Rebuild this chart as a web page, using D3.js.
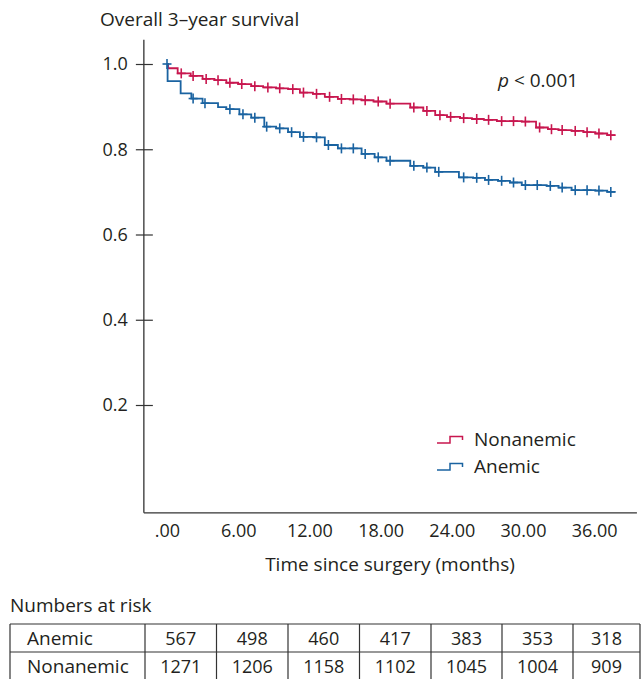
<!DOCTYPE html>
<html>
<head>
<meta charset="utf-8">
<script src="https://cdn.jsdelivr.net/npm/d3@7"></script>
<style>
  html, body { margin: 0; padding: 0; background: #fff; }
  svg { display: block; font-family: "Open Sans", "Noto Sans", sans-serif; }
</style>
</head>
<body>
<svg id="chart" width="641" height="679"></svg>
<script>
// ---------- data ----------
const xTicks = [0, 6, 12, 18, 24, 30, 36];
const yTicks = [0.2, 0.4, 0.6, 0.8, 1.0];

const nonanemicEventTimes = [0.1, 0.9, 2.0, 3.0, 4.0, 5.0, 6.0, 7.1, 8.1, 9.2, 10.2, 11.2, 12.3, 13.3, 14.4, 15.4, 16.4, 17.4, 18.5, 20.5, 21.6, 22.6, 23.6, 24.7, 25.7, 26.7, 27.8, 29.9, 31.1, 32.1, 33.0, 34.1, 35.1, 36.1, 37.1];
const nonanemicSurvival   = [0.990, 0.978, 0.972, 0.965, 0.962, 0.956, 0.953, 0.948, 0.945, 0.943, 0.941, 0.933, 0.930, 0.923, 0.918, 0.917, 0.915, 0.912, 0.907, 0.898, 0.890, 0.880, 0.876, 0.873, 0.871, 0.869, 0.866, 0.865, 0.851, 0.847, 0.845, 0.843, 0.840, 0.837, 0.833];
const nonanemicCensored   = [1.2, 2.2, 3.3, 4.3, 5.3, 6.3, 7.4, 8.5, 9.5, 10.6, 11.5, 12.6, 13.7, 14.7, 15.7, 16.7, 17.8, 18.8, 20.8, 21.9, 23.0, 23.9, 25.0, 26.1, 27.1, 28.2, 29.2, 30.2, 31.4, 32.4, 33.3, 34.4, 35.4, 36.4, 37.4];
const nonanemicEnd = 37.8;

const anemicEventTimes = [0.05, 1.15, 2.05, 3.0, 4.3, 5.0, 6.1, 7.1, 8.2, 9.2, 10.2, 11.2, 12.4, 13.3, 14.4, 16.4, 17.5, 18.5, 20.5, 21.6, 22.6, 24.6, 25.8, 26.8, 27.9, 28.9, 29.9, 32.0, 33.0, 34.1, 36.1, 37.1];
const anemicSurvival   = [0.960, 0.931, 0.919, 0.908, 0.899, 0.894, 0.882, 0.874, 0.853, 0.849, 0.840, 0.829, 0.828, 0.810, 0.802, 0.789, 0.781, 0.773, 0.761, 0.757, 0.747, 0.734, 0.733, 0.728, 0.726, 0.722, 0.716, 0.714, 0.710, 0.704, 0.703, 0.700];
const anemicCensored   = [0, 2.2, 3.2, 5.3, 6.4, 7.4, 8.4, 9.5, 10.5, 11.5, 12.6, 13.6, 14.7, 15.7, 16.7, 17.8, 18.8, 20.8, 21.9, 22.9, 25.0, 26.1, 27.1, 28.2, 29.2, 30.2, 31.2, 32.3, 33.3, 34.4, 35.4, 36.4, 37.4];
const anemicEnd = 37.8;

const riskGroups = ["Anemic", "Nonanemic"];
const riskAnemic = [567, 498, 460, 417, 383, 353, 318];
const riskNonanemic = [1271, 1206, 1158, 1102, 1045, 1004, 909];

// ---------- styles ----------
const colNon = "#c8174f";
const colAne = "#1a63a1";
const axisCol = "#333";
const textCol = "#231f20";
const wordSize = 19;
const numSize = 18;

const svg = d3.select("#chart");

const x = d3.scaleLinear().domain([0, 36]).range([167, 594.2]);
const y = d3.scaleLinear().domain([0, 1]).range([490.25, 64]);

const xMin = -1.95, xMax = 39.6;
const yMin = -0.053, yMax = 1.057;

// title
svg.append("text").attr("x", 100).attr("y", 26)
  .attr("font-size", wordSize).attr("fill", textCol)
  .text("Overall 3\u2013year survival");

// axes lines
svg.append("line").attr("x1", x(xMin)).attr("x2", x(xMin))
  .attr("y1", y(yMax)).attr("y2", y(yMin))
  .attr("stroke", axisCol).attr("stroke-width", 1.3);
svg.append("line").attr("x1", x(xMin)).attr("x2", x(xMax))
  .attr("y1", y(yMin)).attr("y2", y(yMin))
  .attr("stroke", axisCol).attr("stroke-width", 1.3);

// y axis ticks & labels
const yAxis = d3.axisLeft(y).tickValues(yTicks).tickFormat(d3.format(".1f"))
  .tickSizeInner(8).tickSizeOuter(0).tickPadding(8);
const gy = svg.append("g").attr("transform", `translate(${x(xMin)},0)`).call(yAxis);
gy.select(".domain").remove();
gy.selectAll(".tick line").attr("x1", 9).attr("x2", -8).attr("stroke", axisCol).attr("stroke-width", 1.2);
gy.selectAll(".tick text").attr("font-size", numSize).attr("font-family", "Open Sans, sans-serif").attr("fill", textCol);

// x axis labels
const xAxis = d3.axisBottom(x).tickValues(xTicks)
  .tickFormat(d => d === 0 ? ".00" : d3.format(".2f")(d))
  .tickSize(0).tickPadding(11);
const gx = svg.append("g").attr("transform", `translate(0,${y(yMin)})`).call(xAxis);
gx.select(".domain").remove();
gx.selectAll(".tick text").attr("font-size", numSize).attr("font-family", "Open Sans, sans-serif").attr("fill", textCol);

svg.append("text").attr("x", 390).attr("y", 571).attr("text-anchor", "middle")
  .attr("font-size", wordSize).attr("fill", textCol)
  .text("Time since surgery (months)");

// p-value
const pt = svg.append("text").attr("x", 498).attr("y", 87)
  .attr("font-size", wordSize).attr("fill", textCol);
pt.append("tspan").attr("font-style", "italic").text("p");
pt.append("tspan").text(" < 0.001");

// curves
function stepPoints(times, surv, end) {
  const pts = [[0, 1]];
  times.forEach((t, i) => pts.push([t, surv[i]]));
  pts.push([end, surv[surv.length - 1]]);
  return pts;
}
function valueAt(times, surv, t) {
  let v = 1;
  times.forEach((tt, i) => { if (tt <= t) v = surv[i]; });
  return v;
}
const line = d3.line().x(d => x(d[0])).y(d => y(d[1])).curve(d3.curveStepAfter);

function drawSeries(times, surv, cens, end, col) {
  const g = svg.append("g");
  g.append("path").datum(stepPoints(times, surv, end))
    .attr("d", line).attr("fill", "none").attr("stroke", col).attr("stroke-width", 1.8);
  const m = g.selectAll("g.c").data(cens).enter().append("g")
    .attr("transform", d => `translate(${x(d)},${y(valueAt(times, surv, d))})`);
  m.append("line").attr("x1", 0).attr("x2", 0).attr("y1", -5).attr("y2", 5)
    .attr("stroke", col).attr("stroke-width", 1.6);
  m.append("line").attr("x1", -4.5).attr("x2", 4.5).attr("y1", 0).attr("y2", 0)
    .attr("stroke", col).attr("stroke-width", 1.6);
}
drawSeries(nonanemicEventTimes, nonanemicSurvival, nonanemicCensored, nonanemicEnd, colNon);
drawSeries(anemicEventTimes, anemicSurvival, anemicCensored, anemicEnd, colAne);

// legend
const legend = [{name: "Nonanemic", col: colNon}, {name: "Anemic", col: colAne}];
legend.forEach((l, i) => {
  const ly = 443 + i * 27;
  svg.append("path")
    .attr("d", `M437,${ly} H450 V${ly - 6.5} H462.5 V${ly - 3}`)
    .attr("fill", "none").attr("stroke", l.col).attr("stroke-width", 1.5);
  svg.append("text").attr("x", 474).attr("y", ly + 3)
    .attr("font-size", wordSize).attr("fill", textCol).text(l.name);
});

// numbers at risk table
svg.append("text").attr("x", 10).attr("y", 612)
  .attr("font-size", wordSize).attr("fill", textCol).text("Numbers at risk");

const colEdges = [10, 145, 216.5, 288, 359.5, 431, 502, 573, 640];
const rowEdges = [624, 652, 680];
const tbl = svg.append("g");
rowEdges.forEach(ry => tbl.append("line").attr("x1", colEdges[0]).attr("x2", colEdges[colEdges.length - 1])
  .attr("y1", ry).attr("y2", ry).attr("stroke", axisCol).attr("stroke-width", 1.2));
colEdges.forEach(cx => tbl.append("line").attr("x1", cx).attr("x2", cx)
  .attr("y1", rowEdges[0]).attr("y2", rowEdges[rowEdges.length - 1]).attr("stroke", axisCol).attr("stroke-width", 1.2));
const rows = [riskAnemic, riskNonanemic];
rows.forEach((vals, r) => {
  const ty = rowEdges[r] + 21;
  tbl.append("text").attr("x", 27).attr("y", ty).attr("font-size", wordSize).attr("fill", textCol).text(riskGroups[r]);
  vals.forEach((v, c) => {
    tbl.append("text").attr("x", (colEdges[c + 1] + colEdges[c + 2]) / 2).attr("y", ty)
      .attr("text-anchor", "middle").attr("font-size", numSize).attr("fill", textCol).text(v);
  });
});
</script>
</body>
</html>
